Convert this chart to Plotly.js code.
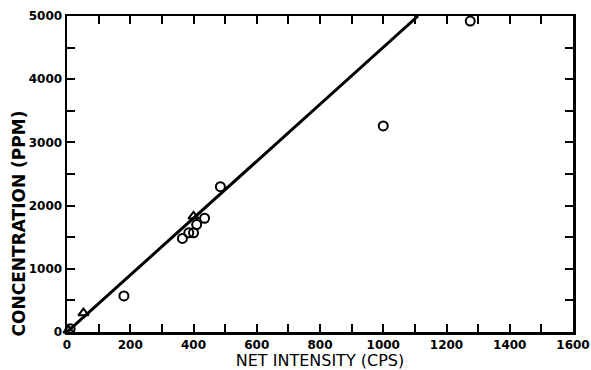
<!DOCTYPE html>
<html>
<head>
<meta charset="utf-8">
<script src="https://cdn.plot.ly/plotly-3.0.1.min.js"></script>
<style>
  html, body { margin: 0; padding: 0; background: #fff; }
  #chart { width: 591px; height: 370px; }
</style>
</head>
<body>
<div id="chart"></div>
<script>
// Calibration standards: net intensity (cps) vs concentration (ppm)
const circleIntensity = [10, 180, 365, 385, 400, 410, 435, 485, 1000, 1275];
const circleConc      = [50, 570, 1480, 1570, 1570, 1700, 1800, 2300, 3260, 4920];
const triangleIntensity = [5, 52, 400];
const triangleConc      = [25, 300, 1830];

// Fitted calibration line
const fitIntensity = [0, 1110];
const fitConc      = [0, 5000];

// Axis ticks (every 100 cps / 500 ppm, labelled every 200 / 1000)
const xTickVals = [0, 100, 200, 300, 400, 500, 600, 700, 800, 900, 1000, 1100, 1200, 1300, 1400, 1500, 1600];
const xTickText = ['0', '', '200', '', '400', '', '600', '', '800', '', '1000', '', '1200', '', '1400', '', '1600'];
const yTickVals = [0, 500, 1000, 1500, 2000, 2500, 3000, 3500, 4000, 4500, 5000];
const yTickText = ['0', '', '1000', '', '2000', '', '3000', '', '4000', '', '5000'];

const traces = [
  {
    x: fitIntensity, y: fitConc, type: 'scatter', mode: 'lines',
    line: { color: '#000', width: 3 }, hoverinfo: 'skip'
  },
  {
    x: circleIntensity, y: circleConc, type: 'scatter', mode: 'markers',
    marker: { symbol: 'circle-open', size: 9, color: '#000', line: { width: 2, color: '#000' } },
    cliponaxis: false
  },
  {
    x: triangleIntensity, y: triangleConc, type: 'scatter', mode: 'markers',
    marker: { symbol: 'triangle-up-open', size: 9, color: '#000', line: { width: 2, color: '#000' } },
    cliponaxis: false
  }
];

const tickFont = { family: 'DejaVu Sans', size: 12, color: '#000', weight: 'bold' };

const layout = {
  width: 591, height: 370,
  margin: { l: 67, r: 18, t: 16, b: 38 },
  paper_bgcolor: '#fff', plot_bgcolor: '#fff',
  showlegend: false,
  xaxis: {
    range: [0, 1600], showgrid: false, zeroline: false,
    showline: true, linecolor: '#000', linewidth: 2.5, mirror: 'ticks',
    tickmode: 'array', tickvals: xTickVals, ticktext: xTickText,
    ticks: 'inside', ticklen: 8, tickwidth: 2, tickcolor: '#000',
    tickfont: tickFont,
    title: { text: 'NET INTENSITY (CPS)', standoff: 0,
             font: { family: 'DejaVu Sans', size: 16, color: '#000' } }
  },
  yaxis: {
    range: [0, 5000], showgrid: false, zeroline: false,
    showline: true, linecolor: '#000', linewidth: 2.5, mirror: 'ticks',
    tickmode: 'array', tickvals: yTickVals, ticktext: yTickText,
    ticks: 'inside', ticklen: 8, tickwidth: 2, tickcolor: '#000',
    tickfont: tickFont, ticklabelstandoff: 0
  },
  annotations: [{
    text: 'CONCENTRATION (PPM)', textangle: -90,
    xref: 'paper', yref: 'paper', x: -0.094, y: 0.345,
    xanchor: 'center', yanchor: 'middle', showarrow: false,
    font: { family: 'DejaVu Sans', size: 17, color: '#000', weight: 'bold' }
  }]
};

Plotly.newPlot('chart', traces, layout, { staticPlot: true, displayModeBar: false });
</script>
</body>
</html>
